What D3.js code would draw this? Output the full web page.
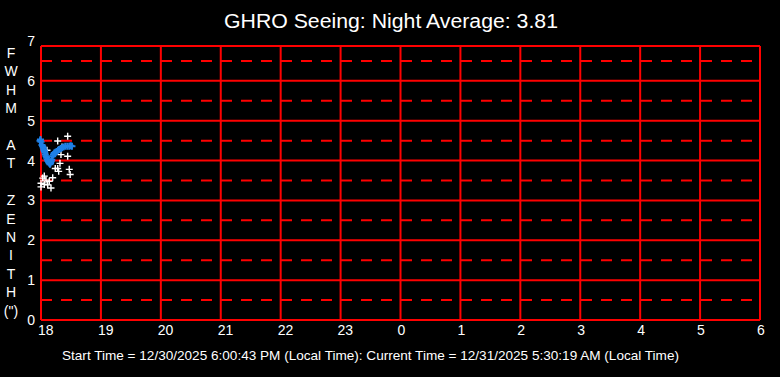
<!DOCTYPE html>
<html>
<head>
<meta charset="utf-8">
<script src="https://cdn.jsdelivr.net/npm/d3@7"></script>
<style>
html,body{margin:0;padding:0;background:#000;}
svg{display:block;}
text{font-family:"Liberation Sans",Arial,sans-serif;fill:#fff;}
</style>
</head>
<body>
<svg id="chart" width="780" height="377"></svg>
<script>
// ---- data ----
const titleText = "GHRO Seeing: Night Average: 3.81";
const footerText = "Start Time = 12/30/2025 6:00:43 PM (Local Time): Current Time = 12/31/2025 5:30:19 AM (Local Time)";
const xTickLabels = ["18","19","20","21","22","23","0","1","2","3","4","5","6"];
const yTickValues = [0,1,2,3,4,5,6,7];
const yHalfValues = [0.5,1.5,2.5,3.5,4.5,5.5,6.5];
const yTitleLetters = ["F","W","H","M","","A","T","","Z","E","N","I","T","H","(\")"];

// raw FWHM measurements: minutes after 18:00, FWHM (arcsec)
const rawMinutes = [0,0,1.7,3.3,3.3,5,6,6.7,8.3,10,11.7,14.3,16.7,16.7,17.7,19,20,21,26.7,26.7,28.3,29.2];
const rawValues  = [3.43,3.34,3.56,3.61,3.40,3.51,4.26,3.39,3.48,3.31,3.57,3.80,3.80,4.49,3.73,3.93,4.15,4.34,4.61,4.11,3.78,3.65];

// smoothed FWHM series: minutes after 18:00, FWHM
const avgMinutes = [-1,-0.5,0,1,1.6,2.3,2.8,3.3,3.8,4.3,5,5.7,6.3,7,7.7,8.3,9,9.6,10.2,10.8,11.7,12.5,13.3,14.5,15.7,17,18.3,19.7,21,22.6,24.3,26.3,28.3,29.7,31];
const avgValues  = [4.50,4.53,4.47,4.39,4.36,4.32,4.28,4.24,4.20,4.15,4.11,4.07,4.03,3.99,3.96,3.93,3.91,3.94,3.98,4.02,4.11,4.15,4.19,4.21,4.23,4.26,4.28,4.30,4.32,4.34,4.36,4.36,4.36,4.37,4.36];

// ---- layout ----
const svg = d3.select("#chart");
const W = 780, H = 377;
svg.append("rect").attr("width",W).attr("height",H).attr("fill","#000");

const x = d3.scaleLinear().domain([0, 12*60]).range([41, 760]);
const y = d3.scaleLinear().domain([0, 7]).range([320, 41]);
const frameTop = 46;
const red = "#ff0000";

const g = svg.append("g");

// half-value dashed lines
g.selectAll("line.half").data(yHalfValues).join("line")
  .attr("x1", x(0)).attr("x2", x(720))
  .attr("y1", d=>y(d)).attr("y2", d=>y(d))
  .attr("stroke", red).attr("stroke-width", 2)
  .attr("stroke-dasharray","11,9");

// integer solid lines
g.selectAll("line.int").data(yTickValues.filter(v=>v<7)).join("line")
  .attr("x1", x(0)).attr("x2", x(720))
  .attr("y1", d=>y(d)).attr("y2", d=>y(d))
  .attr("stroke", red).attr("stroke-width", 2);

// vertical hour lines
g.selectAll("line.v").data(xTickLabels.map((_,i)=>i*60)).join("line")
  .attr("x1", d=>x(d)).attr("x2", d=>x(d))
  .attr("y1", frameTop).attr("y2", y(0))
  .attr("stroke", red).attr("stroke-width", 2);

// top border
g.append("line").attr("x1",x(0)).attr("x2",x(720))
  .attr("y1",frameTop).attr("y2",frameTop)
  .attr("stroke",red).attr("stroke-width",2);

// x tick labels
svg.selectAll("text.xt").data(xTickLabels).join("text")
  .attr("x",(d,i)=>x(i*60)-3).attr("y",335)
  .attr("font-size","14px").attr("text-anchor","start")
  .text(d=>d);

// y tick labels
svg.selectAll("text.yt").data(yTickValues).join("text")
  .attr("x",35).attr("y",d=>y(d)).attr("dy","0.36em")
  .attr("font-size","14px").attr("text-anchor","end")
  .text(d=>d);

// y title, stacked letters
let gaps = 0;
const yTitlePos = yTitleLetters.map((l,i)=>i);
svg.selectAll("text.ytl").data(yTitleLetters).join("text")
  .attr("x",11).attr("y",(d,i)=>53 + i*18.4)
  .attr("dy","0.36em")
  .attr("font-size","14px").attr("text-anchor","middle")
  .text(d=>d);

// title
svg.append("text").attr("x",391).attr("y",28)
  .attr("font-size","19.5px").attr("text-anchor","middle")
  .attr("textLength",334).attr("lengthAdjust","spacingAndGlyphs")
  .text(titleText);

// footer
svg.append("text").attr("x",62).attr("y",359.5)
  .attr("font-size","13px").attr("text-anchor","start")
  .attr("textLength",617).attr("lengthAdjust","spacingAndGlyphs")
  .text(footerText);

// crosses
const cross = s => `M${-s},0H${s}M0,${-s}V${s}`;
const rawData = rawMinutes.map((m,i)=>({m, v:rawValues[i]}));
const avgData = avgMinutes.map((m,i)=>({m, v:avgValues[i]}));

svg.selectAll("path.raw").data(rawData).join("path")
  .attr("transform",d=>`translate(${x(d.m)},${y(d.v)})`)
  .attr("d",cross(3.5)).attr("stroke","#fff").attr("stroke-width",1.4).attr("fill","none");

svg.selectAll("path.avg").data(avgData).join("path")
  .attr("transform",d=>`translate(${x(d.m)},${y(d.v)})`)
  .attr("d",cross(3.5)).attr("stroke","#1f80e6").attr("stroke-width",2).attr("fill","none");
</script>
</body>
</html>
